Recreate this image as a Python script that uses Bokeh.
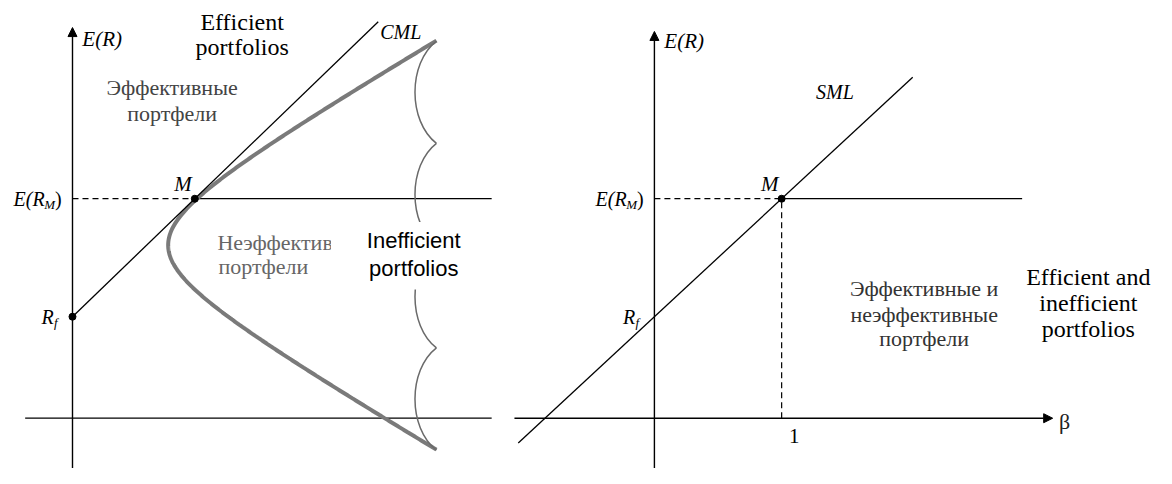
import numpy as np
from bokeh.plotting import figure
from bokeh.layouts import row
from bokeh.models import Range1d, Arrow, NormalHead
from bokeh.core.properties import value
from bokeh.embed import file_html
from bokeh.resources import INLINE

# ---------------- data ----------------
# common return levels (vertical units)
rf = 10.5            # risk-free rate R_f
e_m = 22.7           # expected market return E(R_M)

# left panel: capital market line and efficient frontier (horizontal: sigma)
sigma_m = 12.4               # market portfolio M
cml_sigma = [0.0, 31.0]      # CML drawn from R_f to its end
frontier_min_sigma = 9.7     # minimum-variance point of the frontier
frontier_min_e = 17.9
frontier_end_sigma = 36.9    # both ends of the frontier
frontier_top_e = 39.0
frontier_bottom_e = -3.3

# right panel: security market line (horizontal: beta)
beta_m = 1.0
sml_beta = [-1.07, 2.03]

# ---------------- styling ----------------
SERIF = "Liberation Serif"
SANS = "Liberation Sans"
W_TOTAL, H = 1156, 468
W_LEFT = 503
W_RIGHT = W_TOTAL - W_LEFT


def make_fig(w, xr, yr):
    p = figure(width=w, height=H, x_range=Range1d(*xr), y_range=Range1d(*yr),
               output_backend="svg", toolbar_location=None, min_border=0)
    p.axis.visible = False
    p.grid.visible = False
    p.outline_line_color = None
    p.background_fill_color = "white"
    p.border_fill_color = "white"
    return p


def txt(p, x, y, s, size="22px", font=SERIF, italic=False, align="center",
        color="black", xo=0, yo=0):
    kw = dict(text_font=value(font), text_font_size=size, text_align=align,
              text_baseline="middle", text_color=color, x_offset=xo, y_offset=yo)
    if italic:
        kw["text_font_style"] = "italic"
    p.text(x=[x], y=[y], text=[s], **kw)


def sub_label(p, x, y, main, sub, close=""):
    # right-aligned math label such as E(R_M) or R_f, ending at (x, y)
    off = 0
    if close:
        txt(p, x, y, close, size="20px", align="right", xo=0)
        off -= 6.5
    txt(p, x, y, sub, size="13px", italic=True, align="right", xo=off, yo=6)
    off -= 10.5 if sub == "M" else 4.0
    txt(p, x, y, main, size="20px", italic=True, align="right", xo=off)


def arrow(p, x0, y0, x1, y1):
    p.add_layout(Arrow(end=NormalHead(size=9, fill_color="black", line_color="black"),
                       x_start=x0, y_start=y0, x_end=x1, y_end=y1,
                       line_color="black", line_width=1.4))


# ================= LEFT PANEL =================
L = make_fig(W_LEFT, (-7.3, 43.7), (-5.2, 43.2))
x_hi = L.x_range.end
y_lo = L.y_range.start

# axes
arrow(L, 0, y_lo, 0, 40.4)
L.line([-4.8, 42.5], [0, 0], line_color="black", line_width=1.3)
# E(R_M) level
L.line([0, sigma_m], [e_m, e_m], line_color="black", line_width=1.2, line_dash="6 4")
L.line([sigma_m, 42.5], [e_m, e_m], line_color="black", line_width=1.3)

# efficient frontier (hyperbola through the read points)
half = (frontier_top_e - frontier_bottom_e) / 2
curv = (frontier_end_sigma**2 - frontier_min_sigma**2) / half**2
t = np.linspace(-1, 1, 400)
fe = frontier_min_e + half * t
fs = np.sqrt(frontier_min_sigma**2 + curv * (fe - frontier_min_e) ** 2)
L.line(fs, fe, line_color="#7a7a7a", line_width=4)

# braces to the right of the frontier (four arcs)
bx_end = frontier_end_sigma
bx_ctrl = frontier_end_sigma - 2.9
levels = np.linspace(frontier_top_e, frontier_bottom_e, 5)
h = levels[0] - levels[1]
L.bezier(x0=[bx_end] * 4, y0=levels[:-1], x1=[bx_end] * 4, y1=levels[1:],
         cx0=[bx_ctrl] * 4, cy0=levels[:-1] - 0.217 * h,
         cx1=[bx_ctrl] * 4, cy1=levels[1:] + 0.217 * h,
         line_color="#6a6a6a", line_width=1.5)

# CML
cml_e = [rf + (e_m - rf) / sigma_m * s for s in cml_sigma]
L.line(cml_sigma, cml_e, line_color="black", line_width=1.3)

# points
L.scatter([0, sigma_m], [rf, e_m], size=7, color="black")

# texts
txt(L, 1.0, 39.2, "E(R)", size="21px", italic=True, align="left")
txt(L, 17.2, 41.0, "Efficient", size="24px")
txt(L, 17.2, 38.4, "portfolios", size="24px")
txt(L, 10.1, 34.2, "Эффективные", size="22px", color="#444444")
txt(L, 10.1, 31.5, "портфели", size="22px", color="#444444")
txt(L, 31.2, 39.9, "CML", size="20px", italic=True, align="left")
txt(L, 11.2, 24.2, "M", size="21px", italic=True)
sub_label(L, -1.1, e_m, "E(R", "M", ")")
sub_label(L, -1.5, rf, "R", "f")
txt(L, 14.7, 18.2, "Неэффективные", size="22px", color="#666666", align="left")
txt(L, 14.8, 15.7, "портфели", size="22px", color="#666666", align="left")
# white box behind the overlaid English label
L.quad(left=[26.2], right=[x_hi], top=[20.3], bottom=[13.3],
       fill_color="white", line_color=None)
txt(L, 34.6, 18.4, "Inefficient", size="22px", font=SANS)
txt(L, 34.6, 15.5, "portfolios", size="22px", font=SANS)

# ================= RIGHT PANEL =================
R = make_fig(W_RIGHT, (-1.186, 3.946), (-5.2, 43.2))
ry_lo = R.y_range.start

arrow(R, 0, ry_lo, 0, 40.0)
arrow(R, -1.10, 0, 3.13, 0)
R.line([0, beta_m], [e_m, e_m], line_color="black", line_width=1.2, line_dash="6 4")
R.line([beta_m, 2.89], [e_m, e_m], line_color="black", line_width=1.3)
R.line([beta_m, beta_m], [0, e_m], line_color="black", line_width=1.2, line_dash="6 4")
sml_e = [rf + (e_m - rf) * b for b in sml_beta]
R.line(sml_beta, sml_e, line_color="black", line_width=1.3)
R.scatter([beta_m], [e_m], size=7, color="black")

txt(R, 0.078, 39.0, "E(R)", size="21px", italic=True, align="left")
txt(R, 1.27, 33.7, "SML", size="20px", italic=True, align="left")
txt(R, 0.907, 24.2, "M", size="21px", italic=True)
sub_label(R, -0.085, e_m, "E(R", "M", ")")
sub_label(R, -0.12, rf, "R", "f")
txt(R, 1.10, -1.8, "1", size="21px")
txt(R, 3.18, -0.3, "β", size="22px", align="left", color="#222222")
for yy, s in zip([13.4, 10.7, 8.2], ["Эффективные и", "неэффективные", "портфели"]):
    txt(R, 2.12, yy, s, size="22px", color="#333333")
for yy, s in zip([14.6, 11.9, 9.2], ["Efficient and", "inefficient", "portfolios"]):
    txt(R, 3.41, yy, s, size="24px")

layout = row(L, R, spacing=0)
open("out.html", "w").write(file_html(layout, INLINE))
